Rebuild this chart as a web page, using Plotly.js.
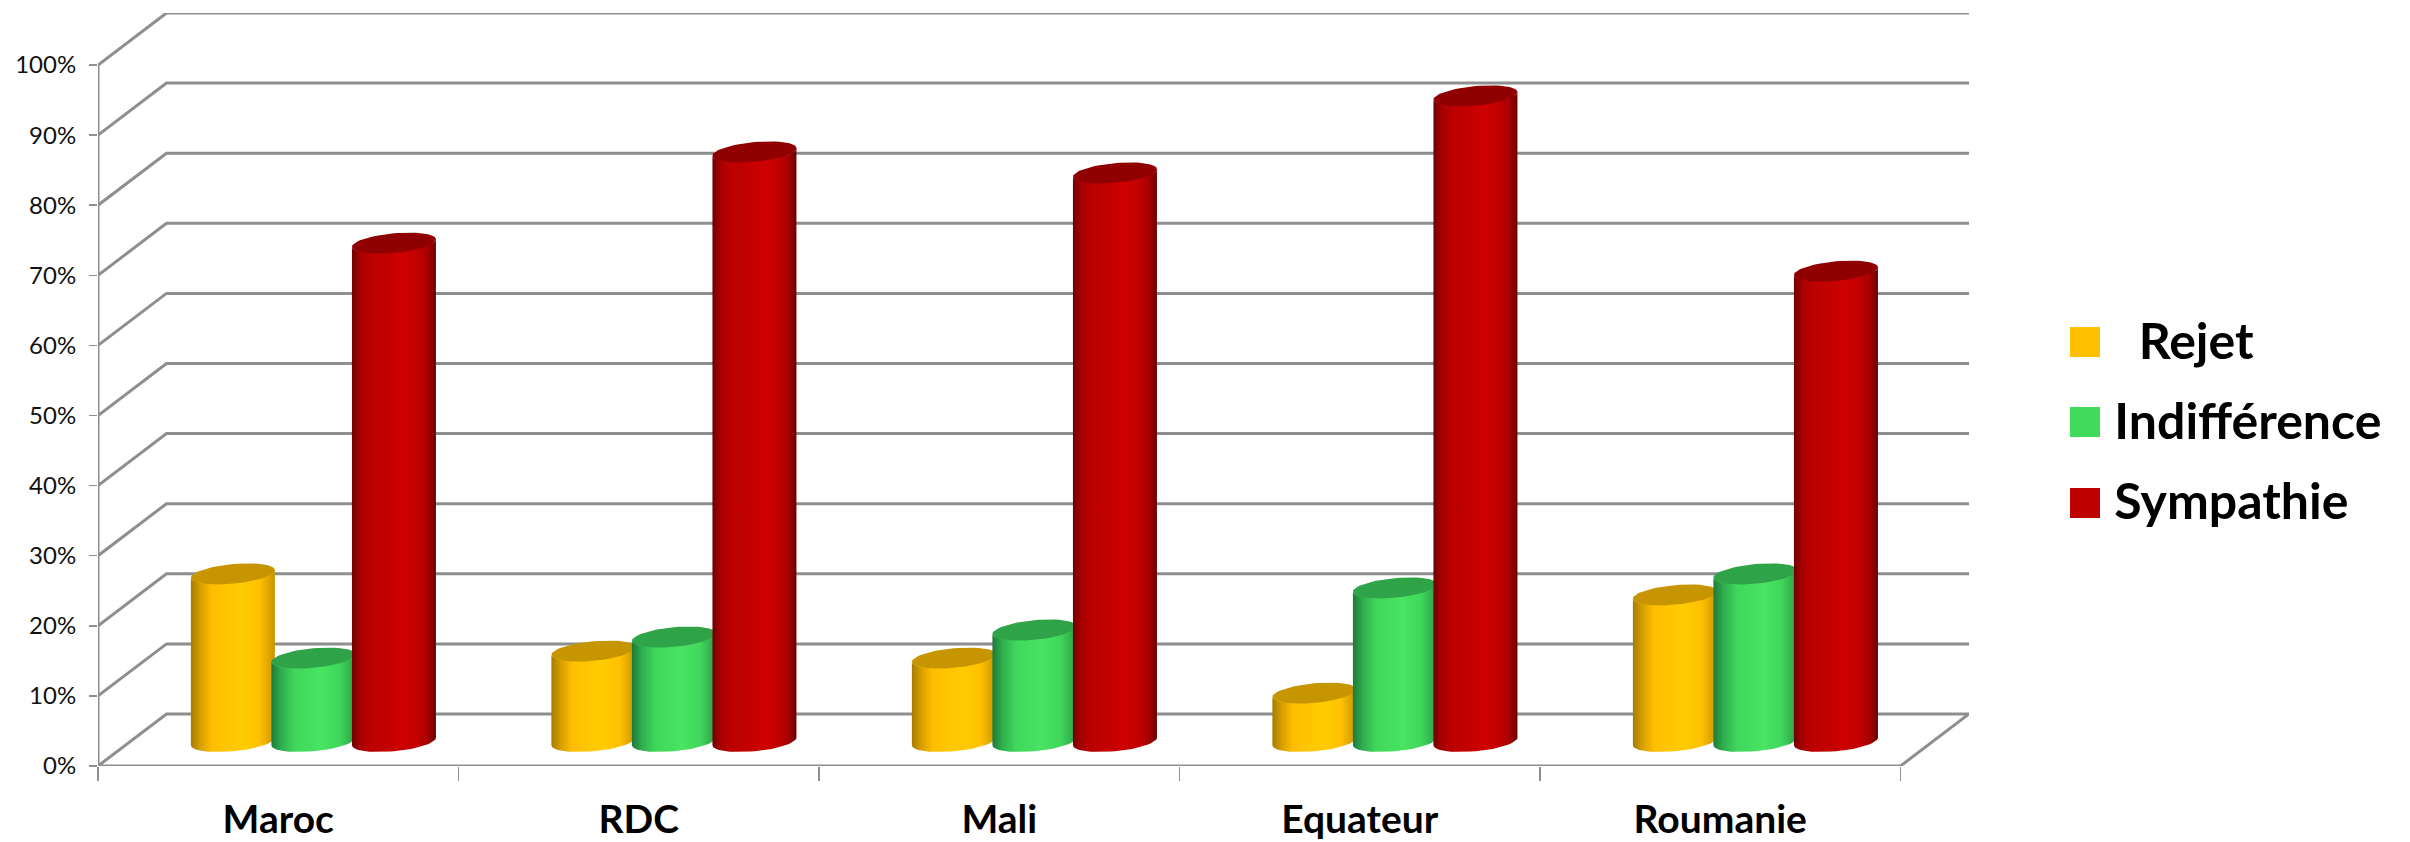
<!DOCTYPE html>
<html>
<head>
<meta charset="utf-8">
<script src="https://cdn.plot.ly/plotly-3.0.1.min.js"></script>
<style>html,body{margin:0;padding:0;background:#fff}#chart{width:2410px;height:842px}</style>
</head>
<body>
<div id="chart"></div>
<script>
var categories = ['Maroc', 'RDC', 'Mali', 'Equateur', 'Roumanie'];
var seriesNames = ['\u00a0\u00a0Rejet', 'Indifférence', 'Sympathie'];
var rejet = [23.9, 12.9, 11.9, 6.9, 20.9];
var indifference = [11.9, 14.9, 15.9, 21.9, 23.9];
var sympathie = [71.1, 84.1, 81.1, 92.1, 67.1];
var percentTicks = [0, 10, 20, 30, 40, 50, 60, 70, 80, 90, 100];
var swatchColors = ['#FFC000', '#43D95B', '#C00000'];
var topColors = ['#C69500', '#2EA347', '#900000'];
var gradients = [
  [[0, '#A67C00'], [0.12, '#D9A000'], [0.25, '#FFBE00'], [0.6, '#FFCC00'], [0.82, '#FFC000'], [1, '#C89400']],
  [[0, '#1F7A38'], [0.12, '#2FAE4E'], [0.28, '#40D75C'], [0.6, '#48E462'], [0.82, '#3FD55B'], [1, '#2B9E45']],
  [[0, '#700000'], [0.1, '#A80000'], [0.22, '#BC0000'], [0.45, '#C40000'], [0.6, '#CE0000'], [0.78, '#C20000'], [0.9, '#A80000'], [1, '#6A0000']]
];
var values = [rejet, indifference, sympathie];

// 3D-look geometry, in axis units
var depthX = 0.19, depthY = 7.42;
var cylShift = 0.0975, cylBase = 3.5, cylStep = 0.2234;
var radX = 0.1165, radY = 1.4, tilt = 0.54;

var traces = [];
values.forEach(function (vals, s) {
  traces.push({
    type: 'bar', name: seriesNames[s], legendgroup: 'g' + s,
    x: vals.map(function (_, i) { return i + 0.5 + cylShift + (s - 1) * cylStep; }),
    y: vals, base: vals.map(function () { return cylBase; }),
    width: radX * 1.8, marker: { color: swatchColors[s], line: { width: 0 } },
    hoverinfo: 'skip'
  });
});

var gx = [], gy = [];
percentTicks.forEach(function (v) {
  gx.push(0, depthX, categories.length + depthX, null);
  gy.push(v, v + depthY, v + depthY, null);
});
gx.push(0, 0, null, 0, categories.length, categories.length + depthX);
gy.push(0, 100, null, 0, 0, depthY);
traces.push({
  type: 'scatter', mode: 'lines', x: gx, y: gy, showlegend: false, hoverinfo: 'skip', cliponaxis: false,
  line: { color: '#8E8E8E', width: 3 }
});

function arc(cx, cy, from, to, n) {
  var xs = [], ys = [];
  for (var k = 0; k <= n; k++) {
    var t = from + (to - from) * k / n;
    xs.push(cx + radX * Math.cos(t));
    ys.push(cy + radY * Math.sin(t) + tilt * Math.cos(t));
  }
  return [xs, ys];
}
categories.forEach(function (_, i) {
  values.forEach(function (vals, s) {
    var cx = i + 0.5 + cylShift + (s - 1) * cylStep;
    var yTop = cylBase + vals[i];
    var low = arc(cx, cylBase, Math.PI, 2 * Math.PI, 30);
    var high = arc(cx, yTop, 0, -Math.PI, 30);
    traces.push({
      type: 'scatter', mode: 'lines', fill: 'toself', showlegend: false, hoverinfo: 'skip', cliponaxis: false,
      x: low[0].concat(high[0]), y: low[1].concat(high[1]),
      line: { width: 0, color: swatchColors[s] },
      fillgradient: { type: 'horizontal', colorscale: gradients[s] }
    });
    var lid = arc(cx, yTop, 0, 2 * Math.PI, 60);
    traces.push({
      type: 'scatter', mode: 'lines', fill: 'toself', showlegend: false, hoverinfo: 'skip', cliponaxis: false,
      x: lid[0], y: lid[1], line: { width: 0, color: topColors[s] }, fillcolor: topColors[s]
    });
  });
});

var layout = {
  width: 2410, height: 842, paper_bgcolor: '#fff', plot_bgcolor: 'rgba(0,0,0,0)',
  margin: { l: 98, r: 441, t: 13, b: 76, pad: 0 },
  barmode: 'overlay',
  font: { family: 'Lato, sans-serif', color: '#000' },
  xaxis: {
    range: [0, categories.length + depthX], showgrid: false, zeroline: false, showline: false,
    tickmode: 'array', tickvals: categories.map(function (_, i) { return i + 0.5; }), ticktext: categories,
    ticks: '', ticklabelstandoff: 27,
    tickfont: { family: 'Lato, sans-serif', size: 39, color: '#000', weight: 700 },
    minor: { tickmode: 'linear', tick0: 0, dtick: 1, ticks: 'outside', ticklen: 14, tickwidth: 1.5, tickcolor: '#8E8E8E', showgrid: false }
  },
  yaxis: {
    range: [0, 100 + depthY], showgrid: false, zeroline: false, showline: false,
    tickmode: 'array', tickvals: percentTicks, ticktext: percentTicks.map(function (v) { return v + '%'; }),
    ticks: 'outside', ticklen: 8, tickwidth: 1.5, tickcolor: '#8E8E8E', ticklabelstandoff: 8,
    tickfont: { family: 'Lato, sans-serif', size: 24, color: '#111' }
  },
  showlegend: true,
  legend: {
    x: 1.0515, xanchor: 'left', y: 0.6186, yanchor: 'top', itemwidth: 39,
    bgcolor: 'rgba(0,0,0,0)', font: { family: 'Lato, sans-serif', size: 50, color: '#000', weight: 700 },
    tracegroupgap: 12, itemclick: false, itemdoubleclick: false
  },
  shapes: swatchColors.map(function (c, s) {
    var top = [327, 407, 488][s];
    return { type: 'rect', xref: 'paper', yref: 'paper', layer: 'above', line: { width: 0 }, fillcolor: c,
      x0: (2070 - 98) / 1871, x1: (2100 - 98) / 1871, y0: (766 - top - 30) / 753, y1: (766 - top) / 753 };
  })
};
Plotly.newPlot('chart', traces, layout, { displayModeBar: false, staticPlot: true });
</script>
</body>
</html>
